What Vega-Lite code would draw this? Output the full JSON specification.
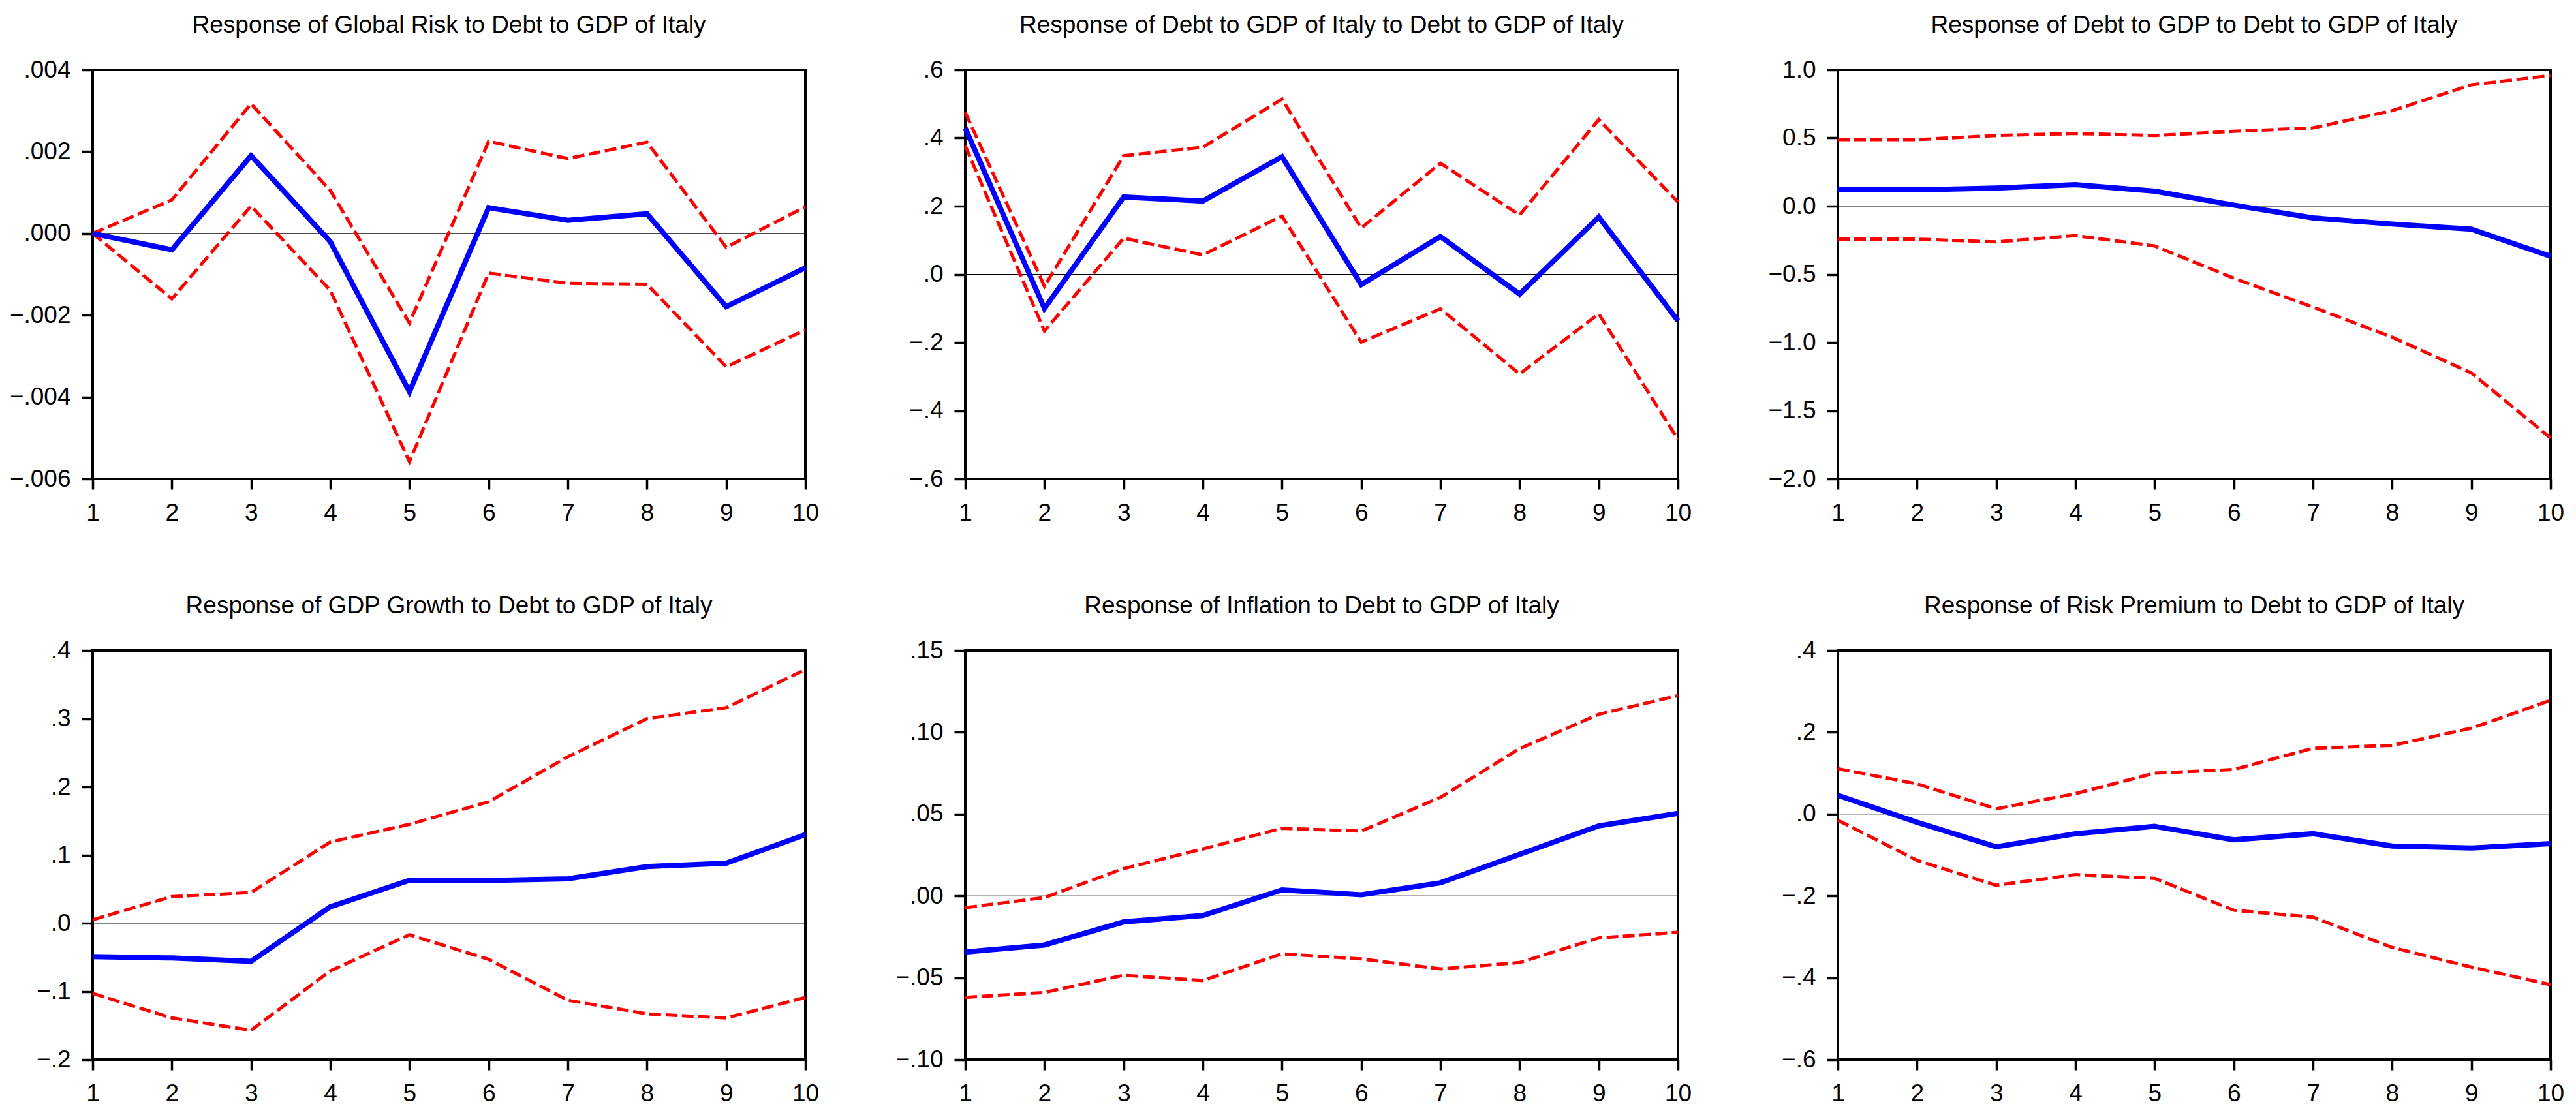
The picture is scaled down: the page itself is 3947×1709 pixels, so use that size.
{
  "$schema": "https://vega.github.io/schema/vega-lite/v6.json",
  "background": "white",
  "padding": {"left": 12, "top": 18, "right": 5, "bottom": 5},
  "bounds": "flush",
  "columns": 3,
  "spacing": {"row": 263, "column": 245},
  "datasets": {
    "p1": [
      {"h": 1, "resp": 0.0, "lo": 0.0, "hi": 0.0},
      {"h": 2, "resp": -0.0004, "lo": -0.0016, "hi": 0.00082},
      {"h": 3, "resp": 0.0019, "lo": 0.00067, "hi": 0.00317},
      {"h": 4, "resp": -0.0002, "lo": -0.00139, "hi": 0.00105},
      {"h": 5, "resp": -0.00387, "lo": -0.00558, "hi": -0.00219},
      {"h": 6, "resp": 0.00063, "lo": -0.00097, "hi": 0.00225},
      {"h": 7, "resp": 0.00032, "lo": -0.00122, "hi": 0.00183},
      {"h": 8, "resp": 0.00048, "lo": -0.00124, "hi": 0.00223},
      {"h": 9, "resp": -0.00179, "lo": -0.00326, "hi": -0.00034},
      {"h": 10, "resp": -0.00084, "lo": -0.00236, "hi": 0.00065}
    ],
    "p2": [
      {"h": 1, "resp": 0.429, "lo": 0.377, "hi": 0.475},
      {"h": 2, "resp": -0.10, "lo": -0.166, "hi": -0.035},
      {"h": 3, "resp": 0.227, "lo": 0.106, "hi": 0.348},
      {"h": 4, "resp": 0.215, "lo": 0.057, "hi": 0.373},
      {"h": 5, "resp": 0.345, "lo": 0.171, "hi": 0.514},
      {"h": 6, "resp": -0.03, "lo": -0.199, "hi": 0.136},
      {"h": 7, "resp": 0.111, "lo": -0.101, "hi": 0.326},
      {"h": 8, "resp": -0.058, "lo": -0.292, "hi": 0.174},
      {"h": 9, "resp": 0.168, "lo": -0.116, "hi": 0.454},
      {"h": 10, "resp": -0.136, "lo": -0.484, "hi": 0.212}
    ],
    "p3": [
      {"h": 1, "resp": 0.12, "lo": -0.242, "hi": 0.488},
      {"h": 2, "resp": 0.12, "lo": -0.242, "hi": 0.488},
      {"h": 3, "resp": 0.133, "lo": -0.262, "hi": 0.518},
      {"h": 4, "resp": 0.158, "lo": -0.216, "hi": 0.533},
      {"h": 5, "resp": 0.11, "lo": -0.292, "hi": 0.518},
      {"h": 6, "resp": 0.008, "lo": -0.528, "hi": 0.549},
      {"h": 7, "resp": -0.086, "lo": -0.74, "hi": 0.574},
      {"h": 8, "resp": -0.131, "lo": -0.961, "hi": 0.70},
      {"h": 9, "resp": -0.169, "lo": -1.223, "hi": 0.89},
      {"h": 10, "resp": -0.367, "lo": -1.70, "hi": 0.958}
    ],
    "p4": [
      {"h": 1, "resp": -0.049, "lo": -0.103, "hi": 0.005},
      {"h": 2, "resp": -0.051, "lo": -0.139, "hi": 0.039},
      {"h": 3, "resp": -0.056, "lo": -0.157, "hi": 0.045},
      {"h": 4, "resp": 0.024, "lo": -0.07, "hi": 0.119},
      {"h": 5, "resp": 0.063, "lo": -0.017, "hi": 0.145},
      {"h": 6, "resp": 0.0626, "lo": -0.053, "hi": 0.178},
      {"h": 7, "resp": 0.065, "lo": -0.113, "hi": 0.244},
      {"h": 8, "resp": 0.083, "lo": -0.133, "hi": 0.30},
      {"h": 9, "resp": 0.088, "lo": -0.139, "hi": 0.316},
      {"h": 10, "resp": 0.13, "lo": -0.109, "hi": 0.372}
    ],
    "p5": [
      {"h": 1, "resp": -0.0343, "lo": -0.062, "hi": -0.0072},
      {"h": 2, "resp": -0.030, "lo": -0.059, "hi": -0.001},
      {"h": 3, "resp": -0.0159, "lo": -0.0485, "hi": 0.0167},
      {"h": 4, "resp": -0.012, "lo": -0.0517, "hi": 0.0287},
      {"h": 5, "resp": 0.0037, "lo": -0.0354, "hi": 0.0413},
      {"h": 6, "resp": 0.0007, "lo": -0.0385, "hi": 0.0396},
      {"h": 7, "resp": 0.008, "lo": -0.0446, "hi": 0.0602},
      {"h": 8, "resp": 0.0254, "lo": -0.0407, "hi": 0.090},
      {"h": 9, "resp": 0.0428, "lo": -0.0257, "hi": 0.111},
      {"h": 10, "resp": 0.0504, "lo": -0.0222, "hi": 0.1224}
    ],
    "p6": [
      {"h": 1, "resp": 0.046, "lo": -0.015, "hi": 0.111},
      {"h": 2, "resp": -0.020, "lo": -0.113, "hi": 0.074},
      {"h": 3, "resp": -0.080, "lo": -0.174, "hi": 0.013},
      {"h": 4, "resp": -0.048, "lo": -0.148, "hi": 0.050},
      {"h": 5, "resp": -0.030, "lo": -0.157, "hi": 0.100},
      {"h": 6, "resp": -0.063, "lo": -0.235, "hi": 0.109},
      {"h": 7, "resp": -0.048, "lo": -0.252, "hi": 0.161},
      {"h": 8, "resp": -0.078, "lo": -0.326, "hi": 0.168},
      {"h": 9, "resp": -0.083, "lo": -0.374, "hi": 0.210},
      {"h": 10, "resp": -0.072, "lo": -0.417, "hi": 0.278}
    ],
    "zero": [{"z": 0}]
  },
  "concat": [
    {
      "title": "Response of Global Risk to Debt to GDP of Italy",
      "width": 1092, "height": 627,
      "data": {"name": "p1"},
      "encoding": {"x": {"field": "h", "type": "quantitative", "scale": {"domain": [1, 10], "nice": false, "zero": false}, "axis": {"values": [1,2,3,4,5,6,7,8,9,10], "format": "d"}}},
      "layer": [
        {"data": {"name": "zero"}, "mark": {"type": "rule", "color": "#000", "strokeWidth": 1}, "encoding": {"x": null, "y": {"field": "z", "type": "quantitative"}}},
        {"mark": {"type": "line", "color": "#ff0000", "strokeWidth": 5, "strokeDash": [18, 7]}, "encoding": {"y": {"field": "hi", "type": "quantitative", "scale": {"domain": [-0.006, 0.004], "nice": false, "zero": false}, "axis": {"values": [-0.006,-0.004,-0.002,0,0.002,0.004], "labelExpr": "replace(format(datum.value, '.3f'), '0.', '.')"}}}},
        {"mark": {"type": "line", "color": "#ff0000", "strokeWidth": 5, "strokeDash": [18, 7]}, "encoding": {"y": {"field": "lo", "type": "quantitative"}}},
        {"mark": {"type": "line", "color": "#0000ff", "strokeWidth": 8}, "encoding": {"y": {"field": "resp", "type": "quantitative"}}}
      ]
    },
    {
      "title": "Response of Debt to GDP of Italy to Debt to GDP of Italy",
      "width": 1092, "height": 627,
      "data": {"name": "p2"},
      "encoding": {"x": {"field": "h", "type": "quantitative", "scale": {"domain": [1, 10], "nice": false, "zero": false}, "axis": {"values": [1,2,3,4,5,6,7,8,9,10], "format": "d"}}},
      "layer": [
        {"data": {"name": "zero"}, "mark": {"type": "rule", "color": "#000", "strokeWidth": 1}, "encoding": {"x": null, "y": {"field": "z", "type": "quantitative"}}},
        {"mark": {"type": "line", "color": "#ff0000", "strokeWidth": 5, "strokeDash": [18, 7]}, "encoding": {"y": {"field": "hi", "type": "quantitative", "scale": {"domain": [-0.6, 0.6], "nice": false, "zero": false}, "axis": {"values": [-0.6,-0.4,-0.2,0,0.2,0.4,0.6], "labelExpr": "replace(format(datum.value, '.1f'), '0.', '.')"}}}},
        {"mark": {"type": "line", "color": "#ff0000", "strokeWidth": 5, "strokeDash": [18, 7]}, "encoding": {"y": {"field": "lo", "type": "quantitative"}}},
        {"mark": {"type": "line", "color": "#0000ff", "strokeWidth": 8}, "encoding": {"y": {"field": "resp", "type": "quantitative"}}}
      ]
    },
    {
      "title": "Response of Debt to GDP to Debt to GDP of Italy",
      "width": 1092, "height": 627,
      "data": {"name": "p3"},
      "encoding": {"x": {"field": "h", "type": "quantitative", "scale": {"domain": [1, 10], "nice": false, "zero": false}, "axis": {"values": [1,2,3,4,5,6,7,8,9,10], "format": "d"}}},
      "layer": [
        {"data": {"name": "zero"}, "mark": {"type": "rule", "color": "#000", "strokeWidth": 1}, "encoding": {"x": null, "y": {"field": "z", "type": "quantitative"}}},
        {"mark": {"type": "line", "color": "#ff0000", "strokeWidth": 5, "strokeDash": [18, 7]}, "encoding": {"y": {"field": "hi", "type": "quantitative", "scale": {"domain": [-2.0, 1.0], "nice": false, "zero": false}, "axis": {"values": [-2,-1.5,-1,-0.5,0,0.5,1], "format": ".1f"}}}},
        {"mark": {"type": "line", "color": "#ff0000", "strokeWidth": 5, "strokeDash": [18, 7]}, "encoding": {"y": {"field": "lo", "type": "quantitative"}}},
        {"mark": {"type": "line", "color": "#0000ff", "strokeWidth": 8}, "encoding": {"y": {"field": "resp", "type": "quantitative"}}}
      ]
    },
    {
      "title": "Response of GDP Growth to Debt to GDP of Italy",
      "width": 1092, "height": 627,
      "data": {"name": "p4"},
      "encoding": {"x": {"field": "h", "type": "quantitative", "scale": {"domain": [1, 10], "nice": false, "zero": false}, "axis": {"values": [1,2,3,4,5,6,7,8,9,10], "format": "d"}}},
      "layer": [
        {"data": {"name": "zero"}, "mark": {"type": "rule", "color": "#000", "strokeWidth": 1}, "encoding": {"x": null, "y": {"field": "z", "type": "quantitative"}}},
        {"mark": {"type": "line", "color": "#ff0000", "strokeWidth": 5, "strokeDash": [18, 7]}, "encoding": {"y": {"field": "hi", "type": "quantitative", "scale": {"domain": [-0.2, 0.4], "nice": false, "zero": false}, "axis": {"values": [-0.2,-0.1,0,0.1,0.2,0.3,0.4], "labelExpr": "replace(format(datum.value, '.1f'), '0.', '.')"}}}},
        {"mark": {"type": "line", "color": "#ff0000", "strokeWidth": 5, "strokeDash": [18, 7]}, "encoding": {"y": {"field": "lo", "type": "quantitative"}}},
        {"mark": {"type": "line", "color": "#0000ff", "strokeWidth": 8}, "encoding": {"y": {"field": "resp", "type": "quantitative"}}}
      ]
    },
    {
      "title": "Response of Inflation to Debt to GDP of Italy",
      "width": 1092, "height": 627,
      "data": {"name": "p5"},
      "encoding": {"x": {"field": "h", "type": "quantitative", "scale": {"domain": [1, 10], "nice": false, "zero": false}, "axis": {"values": [1,2,3,4,5,6,7,8,9,10], "format": "d"}}},
      "layer": [
        {"data": {"name": "zero"}, "mark": {"type": "rule", "color": "#000", "strokeWidth": 1}, "encoding": {"x": null, "y": {"field": "z", "type": "quantitative"}}},
        {"mark": {"type": "line", "color": "#ff0000", "strokeWidth": 5, "strokeDash": [18, 7]}, "encoding": {"y": {"field": "hi", "type": "quantitative", "scale": {"domain": [-0.1, 0.15], "nice": false, "zero": false}, "axis": {"values": [-0.1,-0.05,0,0.05,0.1,0.15], "labelExpr": "replace(format(datum.value, '.2f'), '0.', '.')"}}}},
        {"mark": {"type": "line", "color": "#ff0000", "strokeWidth": 5, "strokeDash": [18, 7]}, "encoding": {"y": {"field": "lo", "type": "quantitative"}}},
        {"mark": {"type": "line", "color": "#0000ff", "strokeWidth": 8}, "encoding": {"y": {"field": "resp", "type": "quantitative"}}}
      ]
    },
    {
      "title": "Response of Risk Premium to Debt to GDP of Italy",
      "width": 1092, "height": 627,
      "data": {"name": "p6"},
      "encoding": {"x": {"field": "h", "type": "quantitative", "scale": {"domain": [1, 10], "nice": false, "zero": false}, "axis": {"values": [1,2,3,4,5,6,7,8,9,10], "format": "d"}}},
      "layer": [
        {"data": {"name": "zero"}, "mark": {"type": "rule", "color": "#000", "strokeWidth": 1}, "encoding": {"x": null, "y": {"field": "z", "type": "quantitative"}}},
        {"mark": {"type": "line", "color": "#ff0000", "strokeWidth": 5, "strokeDash": [18, 7]}, "encoding": {"y": {"field": "hi", "type": "quantitative", "scale": {"domain": [-0.6, 0.4], "nice": false, "zero": false}, "axis": {"values": [-0.6,-0.4,-0.2,0,0.2,0.4], "labelExpr": "replace(format(datum.value, '.1f'), '0.', '.')"}}}},
        {"mark": {"type": "line", "color": "#ff0000", "strokeWidth": 5, "strokeDash": [18, 7]}, "encoding": {"y": {"field": "lo", "type": "quantitative"}}},
        {"mark": {"type": "line", "color": "#0000ff", "strokeWidth": 8}, "encoding": {"y": {"field": "resp", "type": "quantitative"}}}
      ]
    }
  ],
  "config": {
    "font": "Liberation Sans",
    "view": {"stroke": "#000", "strokeWidth": 4},
    "line": {"strokeCap": "butt", "strokeJoin": "miter"},
    "axis": {"grid": false, "domain": false, "tickColor": "#000", "tickWidth": 3.5, "labelColor": "#000", "labelFontSize": 37, "labelFont": "Liberation Sans", "title": null, "labelOverlap": false, "labelFlush": false, "labelBound": false},
    "axisX": {"tickSize": 16, "labelPadding": 18},
    "axisY": {"tickSize": 17, "labelPadding": 17},
    "title": {"fontSize": 37, "fontWeight": "normal", "color": "#000", "font": "Liberation Sans", "baseline": "alphabetic", "offset": 30}
  }
}
